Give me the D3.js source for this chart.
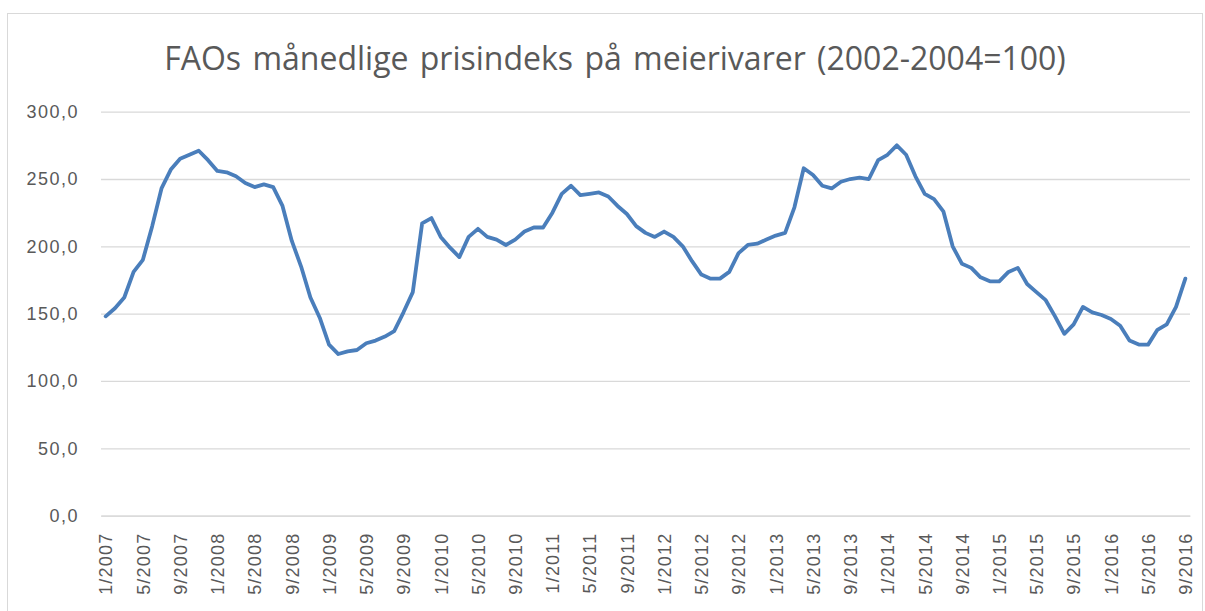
<!DOCTYPE html>
<html>
<head>
<meta charset="utf-8">
<script src="https://cdn.jsdelivr.net/npm/d3@7"></script>
<style>
  body { margin: 0; background: #fff; }
  svg { display: block; font-family: "Open Sans", sans-serif; }
</style>
</head>
<body>
<div id="chart"></div>
<script>
// FAO dairy price index, monthly 1/2007 - 9/2016 (2002-2004=100)
var startYear = 2007;
var values = [
  148, 154, 162, 181, 190, 215, 243, 257, 265, 268, 271, 264,   // 2007
  256, 255, 252, 247, 244, 246, 244, 230, 204, 185, 162, 147,   // 2008
  127, 120, 122, 123, 128, 130, 133, 137, 151, 166, 217, 221,   // 2009
  207, 199, 192, 207, 213, 207, 205, 201, 205, 211, 214, 214,   // 2010
  225, 239, 245, 238, 239, 240, 237, 230, 224, 215, 210, 207,   // 2011
  211, 207, 200, 189, 179, 176, 176, 181, 195, 201, 202, 205,   // 2012
  208, 210, 229, 258, 253, 245, 243, 248, 250, 251, 250, 264,   // 2013
  268, 275, 268, 252, 239, 235, 226, 200, 187, 184, 177, 174,   // 2014
  174, 181, 184, 172, 166, 160, 148, 135, 142, 155, 151, 149,   // 2015
  146, 141, 130, 127, 127, 138, 142, 155, 176                   // 2016
];
var yTicks = [0, 50, 100, 150, 200, 250, 300];
var title = "FAOs månedlige prisindeks på meierivarer (2002-2004=100)";

var months = values.map(function(v, i) {
  return ((i % 12) + 1) + "/" + (startYear + Math.floor(i / 12));
});
var data = values.map(function(v, i) { return {label: months[i], value: v}; });
var tickLabels = months.filter(function(m, i) { return i % 4 == 0; });

var W = 1205, H = 611;
var svg = d3.select("#chart").append("svg")
    .attr("width", W)
    .attr("height", H);

// chart frame
svg.append("rect")
    .attr("x", 7.5).attr("y", 13.5)
    .attr("width", 1195).attr("height", 620)
    .attr("fill", "none")
    .attr("stroke", "#d9d9d9");

svg.append("text")
    .attr("x", 615).attr("y", 70)
    .attr("text-anchor", "middle")
    .attr("fill", "#595959")
    .style("font-size", "32px")
    .style("word-spacing", "3px")
    .text(title);

var x = d3.scalePoint()
    .domain(months)
    .range([101, 1190])
    .padding(0.5);

var y = d3.scaleLinear()
    .domain([0, 300])
    .range([515.6, 111.7]);

// gridlines + y labels
var yAxis = svg.append("g")
    .attr("transform", "translate(101,0)")
    .call(d3.axisLeft(y)
        .tickValues(yTicks)
        .tickSize(-1089)
        .tickPadding(22)
        .tickFormat(function(d) { return d3.format(".1f")(d).replace(".", ","); }));
yAxis.select(".domain").remove();
yAxis.selectAll(".tick line").attr("stroke", "#d9d9d9").attr("stroke-width", 1.3);
yAxis.selectAll(".tick text")
    .attr("fill", "#595959")
    .style("font-size", "18px")
    .style("letter-spacing", "1.5px");

// x axis
var xAxis = svg.append("g")
    .attr("transform", "translate(0," + y(0) + ")")
    .call(d3.axisBottom(x).tickValues(tickLabels).tickSize(0));
xAxis.select(".domain").attr("stroke", "#d9d9d9").attr("stroke-width", 1.3);
xAxis.selectAll(".tick text")
    .attr("fill", "#595959")
    .style("font-size", "18px")
    .style("letter-spacing", "1.2px")
    .attr("text-anchor", "end")
    .attr("transform", "rotate(-90)")
    .attr("x", -17)
    .attr("y", 0)
    .attr("dy", "0.35em");

// the line
svg.append("path")
    .datum(data)
    .attr("fill", "none")
    .attr("stroke", "#4a7ebb")
    .attr("stroke-width", 3.8)
    .attr("stroke-linejoin", "round")
    .attr("stroke-linecap", "round")
    .attr("d", d3.line()
        .x(function(d) { return x(d.label); })
        .y(function(d) { return y(d.value); }));
</script>
</body>
</html>
